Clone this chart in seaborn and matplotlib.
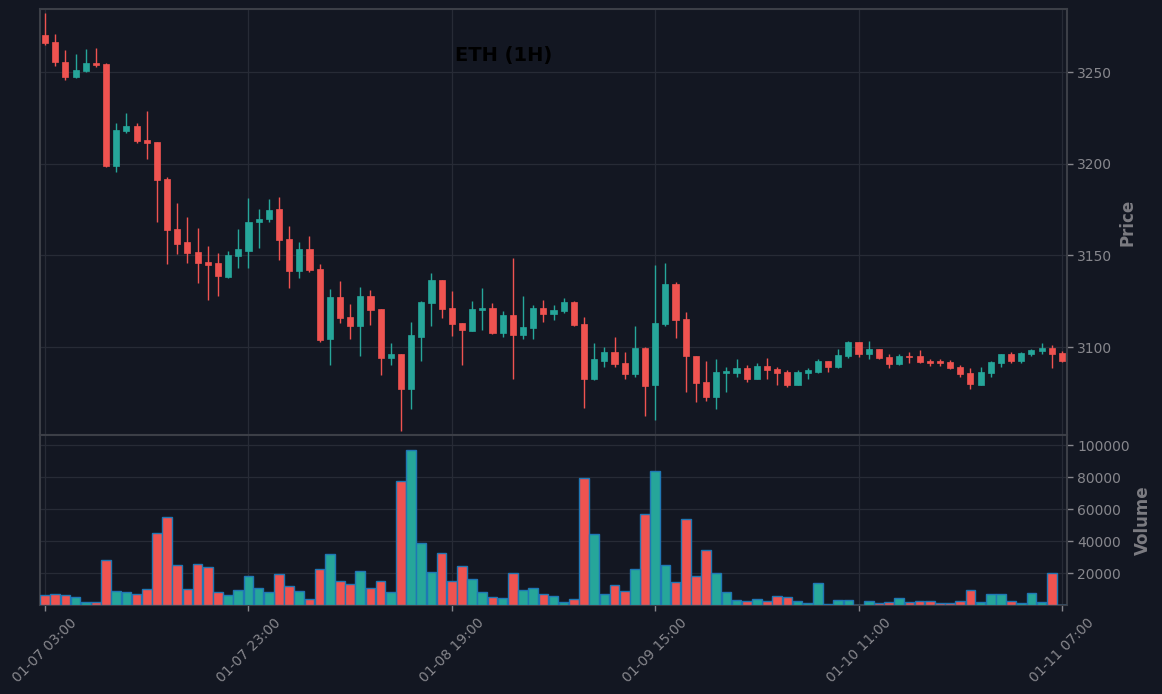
import matplotlib
matplotlib.use('Agg')
import matplotlib.pyplot as plt
import numpy as np
import pandas as pd
import seaborn as sns

# hourly ETH candles, 01-07 03:00 .. 01-11 07:00
times = pd.date_range('2025-01-07 03:00', periods=101, freq='h')

opens = [3270.2, 3266.3, 3255.4, 3247.4, 3250.7, 3254.9, 3254.3, 3198.9, 3218.0, 3220.5,
         3212.9, 3211.8, 3191.6, 3164.3, 3157.2, 3151.8, 3146.3, 3145.8, 3138.2, 3149.7,
         3152.3, 3168.2, 3170.0, 3175.3, 3158.9, 3141.6, 3153.5, 3142.5, 3104.4, 3127.3,
         3116.4, 3111.5, 3127.8, 3120.7, 3094.0, 3096.2, 3077.3, 3105.5, 3124.0, 3136.5,
         3121.3, 3113.1, 3108.9, 3120.2, 3121.3, 3107.8, 3117.5, 3106.7, 3110.5, 3121.3,
         3118.2, 3119.8, 3124.5, 3112.5, 3082.7, 3092.6, 3097.3, 3091.3, 3085.5, 3099.5,
         3079.5, 3112.7, 3134.4, 3115.3, 3095.1, 3080.9, 3072.9, 3085.8, 3086.0, 3088.5,
         3082.7, 3089.6, 3088.0, 3086.4, 3079.5, 3086.0, 3086.5, 3092.4, 3089.3, 3095.3,
         3102.5, 3096.4, 3098.9, 3094.5, 3090.9, 3095.1, 3095.1, 3092.5, 3092.5, 3091.8,
         3089.1, 3086.0, 3079.5, 3086.0, 3091.5, 3096.2, 3092.4, 3096.2, 3097.8, 3099.5,
         3096.7]
highs = [3282.0, 3271.0, 3261.8, 3259.6, 3262.4, 3262.9, 3254.7, 3222.0, 3227.4, 3222.0,
         3228.7, 3211.8, 3192.5, 3178.3, 3170.7, 3164.7, 3154.9, 3151.1, 3152.5, 3164.3,
         3181.3, 3175.3, 3180.5, 3182.1, 3165.8, 3157.4, 3160.4, 3145.1, 3131.4, 3135.8,
         3123.4, 3132.7, 3131.1, 3120.7, 3102.0, 3096.2, 3113.6, 3125.1, 3140.2, 3136.5,
         3130.4, 3113.1, 3125.1, 3132.2, 3124.2, 3119.6, 3148.5, 3127.8, 3122.9, 3125.6,
         3122.8, 3126.5, 3125.1, 3116.2, 3102.0, 3099.8, 3105.3, 3097.1, 3111.3, 3100.0,
         3144.5, 3145.6, 3135.6, 3118.9, 3095.1, 3092.2, 3093.3, 3089.1, 3093.3, 3090.0,
         3091.1, 3093.8, 3089.1, 3087.5, 3087.5, 3088.5, 3093.5, 3092.4, 3098.9, 3103.3,
         3102.5, 3103.3, 3098.9, 3096.2, 3096.2, 3097.1, 3098.4, 3093.5, 3093.5, 3092.9,
         3090.2, 3088.4, 3089.1, 3092.5, 3096.2, 3097.3, 3097.3, 3098.9, 3102.2, 3100.9,
         3097.6]
lows = [3264.7, 3253.4, 3245.8, 3246.9, 3250.1, 3252.5, 3198.4, 3195.6, 3216.9, 3211.1,
        3202.3, 3168.4, 3145.1, 3150.9, 3146.0, 3134.7, 3125.4, 3128.0, 3137.8, 3143.3,
        3142.9, 3154.2, 3168.0, 3147.6, 3132.4, 3137.8, 3141.1, 3102.9, 3090.4, 3113.3,
        3104.5, 3095.3, 3112.2, 3084.9, 3090.4, 3054.4, 3066.4, 3092.2, 3111.6, 3116.0,
        3106.2, 3090.4, 3108.9, 3109.5, 3107.3, 3105.6, 3082.7, 3104.5, 3104.2, 3113.8,
        3115.0, 3118.7, 3111.6, 3066.9, 3082.0, 3089.3, 3089.3, 3082.7, 3083.8, 3062.5,
        3060.4, 3111.6, 3105.1, 3075.3, 3069.8, 3070.7, 3066.0, 3075.3, 3083.8, 3081.1,
        3082.7, 3082.7, 3079.5, 3078.4, 3079.5, 3082.7, 3086.0, 3086.5, 3088.7, 3093.8,
        3094.4, 3093.3, 3093.3, 3088.7, 3090.4, 3091.5, 3091.5, 3089.8, 3089.8, 3088.2,
        3083.8, 3077.3, 3079.5, 3083.8, 3089.3, 3091.5, 3091.5, 3095.1, 3096.2, 3088.7,
        3092.0]
closes = [3266.0, 3255.6, 3247.4, 3251.0, 3254.9, 3253.8, 3198.9, 3218.3, 3220.5, 3212.5,
          3211.4, 3191.3, 3164.0, 3156.3, 3151.4, 3146.0, 3144.9, 3138.9, 3150.2, 3153.3,
          3168.2, 3169.8, 3174.7, 3158.3, 3141.6, 3153.4, 3142.2, 3103.8, 3127.3, 3115.8,
          3111.5, 3127.8, 3120.2, 3094.0, 3096.2, 3077.3, 3106.5, 3124.6, 3136.5, 3120.7,
          3112.7, 3109.5, 3120.7, 3121.3, 3107.8, 3117.5, 3106.7, 3110.9, 3121.3, 3118.2,
          3120.2, 3124.5, 3112.2, 3082.7, 3093.5, 3097.3, 3090.9, 3085.5, 3099.5, 3078.9,
          3113.1, 3134.4, 3114.9, 3095.3, 3080.5, 3072.9, 3086.4, 3086.9, 3088.5, 3082.7,
          3089.6, 3087.6, 3086.0, 3079.5, 3086.4, 3087.5, 3092.4, 3089.3, 3095.6, 3102.5,
          3096.4, 3098.9, 3094.2, 3090.9, 3095.1, 3094.7, 3092.0, 3091.5, 3091.5, 3088.7,
          3085.5, 3080.0, 3086.4, 3092.0, 3096.2, 3092.4, 3096.7, 3098.4, 3099.5, 3096.2,
          3092.5]
volumes = [6250, 6875, 6250, 5000, 1670, 1670, 28125, 8750, 8125, 6875,
           10000, 45000, 55000, 25000, 10000, 25625, 23750, 8125, 6250, 9375,
           18125, 10625, 8125, 19375, 11875, 8750, 3750, 22500, 31875, 15000,
           13125, 21250, 10625, 15000, 8125, 77500, 96875, 38750, 20625, 32500,
           15000, 24375, 16250, 8125, 5000, 4375, 20000, 9375, 10625, 6875,
           5625, 1875, 3750, 79375, 44375, 6875, 12500, 8750, 22500, 56875,
           83750, 25000, 14375, 53750, 18125, 34375, 20000, 8125, 3125, 2500,
           3750, 2500, 5625, 5000, 2500, 1200, 13750, 500, 3125, 3125,
           150, 2500, 1000, 1900, 4375, 1900, 2500, 2500, 1000, 1000,
           2500, 9375, 1900, 6875, 6875, 2500, 1000, 7500, 1900, 20000, 0]

price_ticks = [3100, 3150, 3200, 3250]
volume_ticks = [20000, 40000, 60000, 80000, 100000]
date_ticks = [0, 20, 40, 60, 80, 100]

df = pd.DataFrame({'time': times, 'open': opens, 'high': highs,
                   'low': lows, 'close': closes, 'volume': volumes})
df['idx'] = np.arange(len(df))
df['dir'] = np.where(df['close'] >= df['open'], 'up', 'down')

bg = '#131722'
up_c = '#26a69a'
down_c = '#ef5350'
grid_c = '#272b36'
spine_c = '#3c3f47'
text_c = '#87878d'
pal = {'up': up_c, 'down': down_c}

sns.set_theme(style='dark', rc={'axes.facecolor': bg, 'figure.facecolor': bg})
plt.rcParams['font.family'] = ['DejaVu Sans']

fig = plt.figure(figsize=(11.62, 6.94), dpi=100, facecolor=bg)
W, H = 1162, 694
ax = fig.add_axes([40 / W, 1 - 435 / H, 1027 / W, 426 / H])
axv = fig.add_axes([40 / W, 1 - 605 / H, 1027 / W, 170 / H], sharex=ax)

#%% candles
cols = df['dir'].map(pal)
ax.vlines(df['idx'], df['low'], df['high'], colors=cols, lw=1, zorder=2)
body_lo = np.minimum(df['open'], df['close'])
body_h = np.maximum(np.abs(df['close'] - df['open']), 0.3)
ax.bar(df['idx'], body_h, bottom=body_lo, width=0.6, color=cols,
       edgecolor=cols, linewidth=0.5, zorder=3)

#%% volume
sns.barplot(data=df, x='idx', y='volume', hue='dir', palette=pal,
            native_scale=True, dodge=False, width=0.95, saturation=1,
            edgecolor='#1f77b4', linewidth=1, errorbar=None, legend=False,
            ax=axv, zorder=3)

#%% axes styling
for a in (ax, axv):
    a.set_facecolor(bg)
    a.grid(True, color=grid_c, lw=0.9, zorder=0)
    a.set_axisbelow(True)
    a.yaxis.tick_right()
    a.yaxis.set_label_position('right')
    for s in a.spines.values():
        s.set_color(spine_c)
        s.set_linewidth(1.5)
        s.set_visible(True)
    a.tick_params(colors=text_c, labelcolor=text_c, labelsize=10,
                  length=4, width=1, bottom=True, right=True, left=False)

ax.set_xlim(-0.5, 100.5)
ax.set_ylim(3052, 3284.4)
ax.set_yticks(price_ticks)
ax.set_yticklabels([str(t) for t in price_ticks])
ax.set_ylabel('Price', color='#7c7c82', fontsize=12, fontweight='bold', labelpad=4)
ax.set_xlabel('')
ax.tick_params(labelbottom=False, bottom=False)

axv.set_ylim(0, 1.1 * max(volumes))
axv.set_yticks(volume_ticks)
axv.set_yticklabels([str(t) for t in volume_ticks])
axv.set_ylabel('Volume', color='#7c7c82', fontsize=12, fontweight='bold', labelpad=3)
axv.set_xlabel('')
axv.set_xticks(date_ticks)
axv.set_xticklabels([df['time'][i].strftime('%m-%d %H:%M') for i in date_ticks],
                    rotation=45)
axv.set_xlim(-0.5, 100.5)

fig.text(504 / W, 1 - 56 / H, 'ETH (1H)', ha='center', va='center',
         fontsize=14, fontweight='bold', color='black')

fig.savefig('out.png', dpi=100, facecolor=bg)
